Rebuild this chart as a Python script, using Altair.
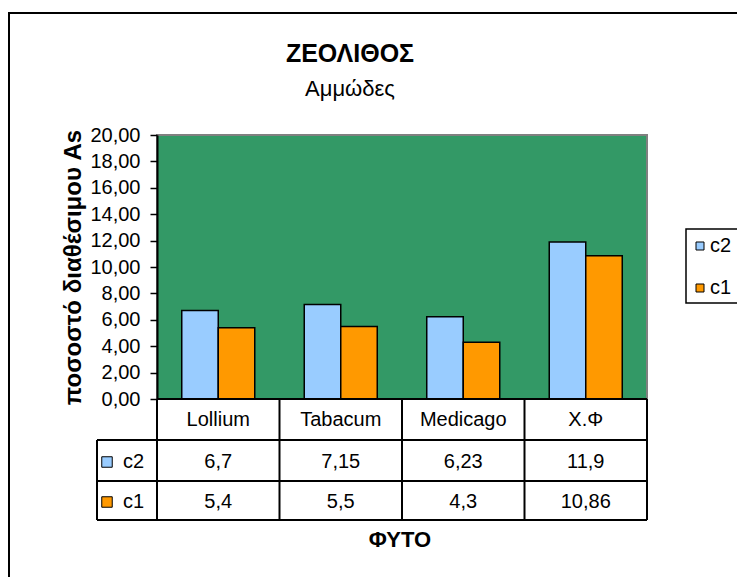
import altair as alt
import pandas as pd

# ---- data ----
plants = ["Lollium", "Tabacum", "Medicago", "Χ.Φ"]
series = ["c2", "c1"]
c2_values = [6.7, 7.15, 6.23, 11.9]
c1_values = [5.4, 5.5, 4.3, 10.86]
y_ticks = [0, 2, 4, 6, 8, 10, 12, 14, 16, 18, 20]
colors = ["#99CCFF", "#FF9900"]

rows = []
for s, vals in zip(series, [c2_values, c1_values]):
    for p, v in zip(plants, vals):
        rows.append({"plant": p, "series": s, "value": v,
                     "label": str(v).replace(".", ",")})
df = pd.DataFrame(rows)

# ---- layout ----
W, H = 490, 264
STEP = W / len(plants)
FONT = "Liberation Sans"
ROW_TOP = [H, H + 41, H + 82, H + 121]   # table row boundaries (px below plot top)
ROW_MID = [H + 21, H + 63, H + 103]
LABEL_COL = -60

one = pd.DataFrame({"k": [0]})

xscale = alt.Scale(domain=plants, paddingInner=0.404, paddingOuter=0.202)
x_enc = alt.X("plant:N", scale=xscale, axis=None)

bars = alt.Chart(df).mark_bar(stroke="black", strokeWidth=1.5).encode(
    x=x_enc,
    xOffset=alt.XOffset("series:N", scale=alt.Scale(domain=series)),
    y=alt.Y("value:Q",
            scale=alt.Scale(domain=[0, 20], nice=False, zero=True),
            axis=alt.Axis(values=y_ticks,
                          labelExpr="replace(format(datum.value, '.2f'), '.', ',')",
                          grid=False, domainColor="black", domainWidth=2,
                          tickColor="black", tickSize=7, tickWidth=1.5,
                          labelFontSize=20, labelFont=FONT, labelColor="black",
                          labelPadding=10, labelOverlap=False, labelFlush=False,
                          title="ποσοστό διαθέσιμου As", titleFontSize=24,
                          titleFont=FONT, titleFontWeight="bold", titleColor="black",
                          titleX=-84, titleY=H / 2, titleAngle=270,
                          titleAlign="center", titleBaseline="middle")),
    color=alt.Color("series:N",
                    scale=alt.Scale(domain=series, range=colors),
                    legend=alt.Legend(orient="none", legendX=533, legendY=101,
                                      title=None, symbolType="square", symbolSize=64,
                                      symbolStrokeColor="black", symbolStrokeWidth=1,
                                      labelFontSize=20, labelFont=FONT,
                                      labelColor="black", labelOffset=0,
                                      rowPadding=22, padding=0)),
)


def txt(text, x, y, size, bold=False, align="center"):
    return alt.Chart(pd.DataFrame({"t": [text]})).mark_text(
        font=FONT, fontSize=size, fontWeight="bold" if bold else "normal",
        color="black", align=align, baseline="middle"
    ).encode(x=alt.value(x), y=alt.value(y), text="t:N")


def rule(x, x2, y, y2, color="black", width=2):
    return alt.Chart(one).mark_rule(color=color, strokeWidth=width).encode(
        x=alt.value(x), x2=alt.value(x2), y=alt.value(y), y2=alt.value(y2))


layers = []
# outer chart border (right/bottom lie outside the picture)
layers.append(alt.Chart(one).mark_rect(fillOpacity=0, stroke="black", strokeWidth=2).encode(
    x=alt.value(-148), y=alt.value(-122), x2=alt.value(700), y2=alt.value(600)))
# legend box
layers.append(alt.Chart(one).mark_rect(fill="white", stroke="black", strokeWidth=1.5).encode(
    x=alt.value(529), y=alt.value(94), x2=alt.value(640), y2=alt.value(168)))
layers.append(bars)

# table: category header
layers.append(alt.Chart(pd.DataFrame({"plant": plants})).mark_text(
    font=FONT, fontSize=20, color="black", baseline="middle").encode(
    x=x_enc, y=alt.value(ROW_MID[0]), text="plant:N"))

# table: series rows
for i, (s, col) in enumerate(zip(series, colors)):
    ym = ROW_MID[i + 1]
    layers.append(alt.Chart(df).transform_filter(alt.datum.series == s).mark_text(
        font=FONT, fontSize=20, color="black", baseline="middle").encode(
        x=x_enc, y=alt.value(ym), text="label:N"))
    layers.append(alt.Chart(one).mark_square(size=110, fill=col, stroke="black",
                                             strokeWidth=1, opacity=1).encode(
        x=alt.value(-50), y=alt.value(ym)))
    layers.append(txt(s, -34, ym, 20, align="left"))

# table grid
layers.append(rule(0, W, ROW_TOP[0], ROW_TOP[0]))
for yy in ROW_TOP[1:]:
    layers.append(rule(LABEL_COL, W, yy, yy))
for i in range(len(plants) + 1):
    layers.append(rule(i * STEP, i * STEP, ROW_TOP[0], ROW_TOP[3]))
layers.append(rule(LABEL_COL, LABEL_COL, ROW_TOP[1], ROW_TOP[3]))

# titles
layers.append(txt("ΖΕΟΛΙΘΟΣ", 193, -81, 25, bold=True))
layers.append(txt("Αμμώδες", 193, -46, 22))
layers.append(txt("ΦΥΤΟ", 243, 405, 22, bold=True))

chart = alt.layer(*layers).properties(
    width=W, height=H,
    autosize=alt.AutoSizeParams(type="none"),
    padding={"left": 149, "top": 127, "right": 90, "bottom": 178},
    background="white",
).configure_view(fill="#339966", stroke="#808080", strokeWidth=2)

chart.save("out.html", embed_options={"renderer": "svg", "actions": False})
